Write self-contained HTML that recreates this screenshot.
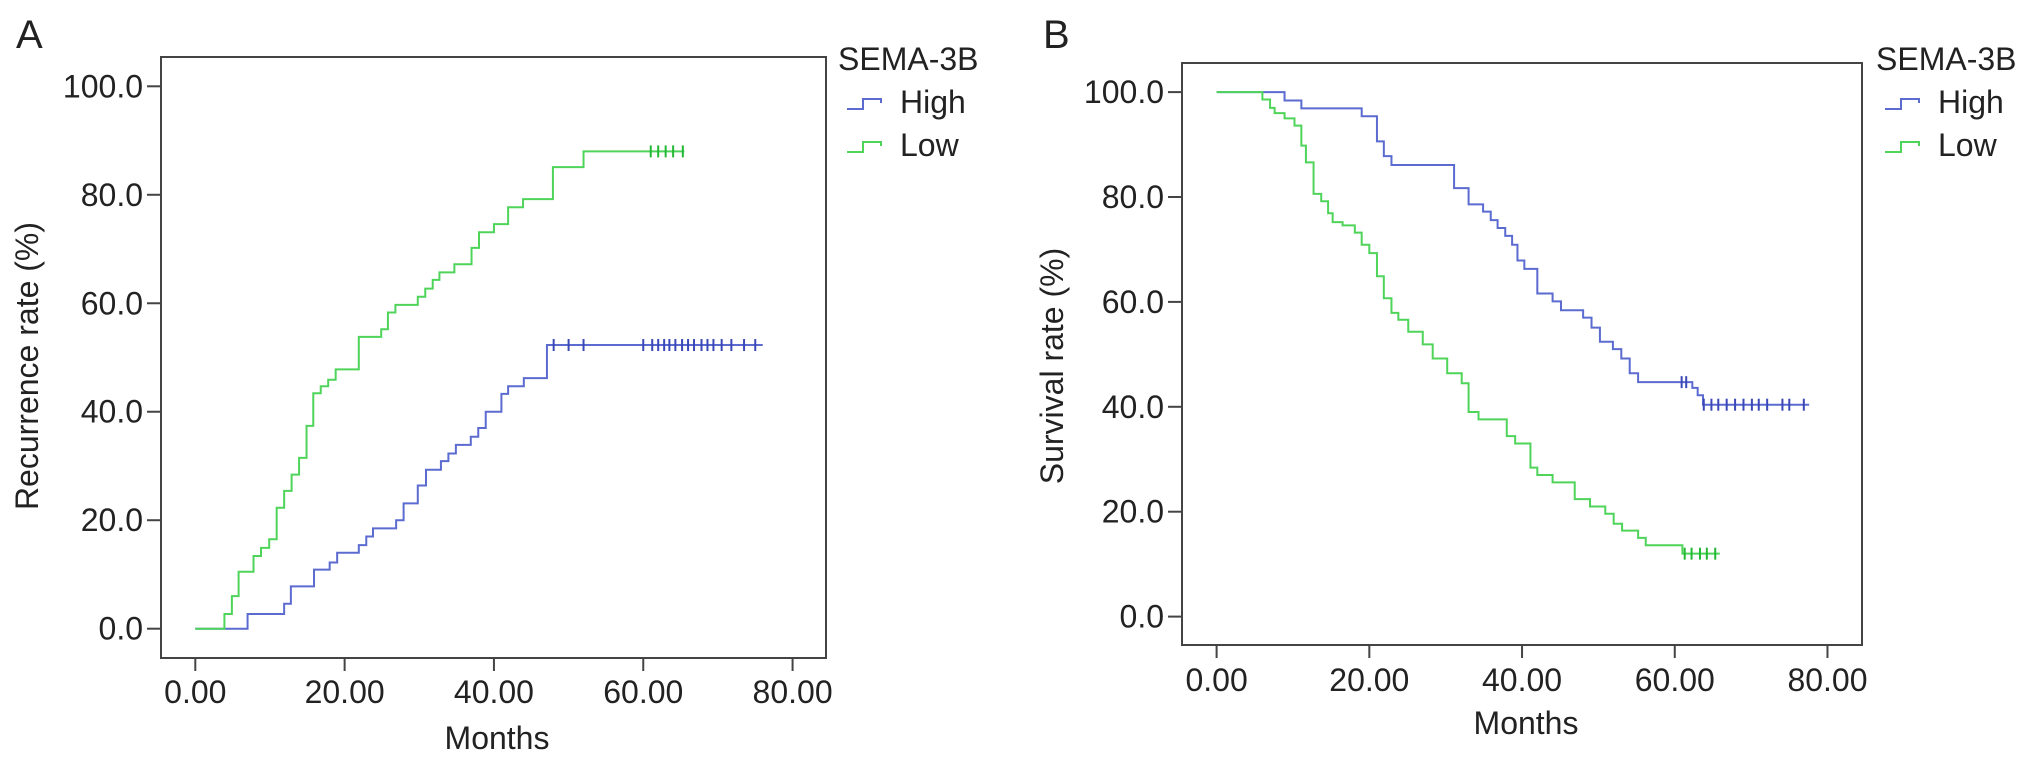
<!DOCTYPE html>
<html><head><meta charset="utf-8">
<style>
html,body{margin:0;padding:0;background:#fff;}
svg{display:block;}
text{font-family:"Liberation Sans",Arial,sans-serif;fill:#222;}
</style></head>
<body>
<svg id="chart" width="2032" height="779" viewBox="0 0 2032 779" xmlns="http://www.w3.org/2000/svg"></svg>
<script>
// ---- Shared ticks ----
const xTickValues = [0, 20, 40, 60, 80];
const xTickLabels = ["0.00", "20.00", "40.00", "60.00", "80.00"];
const yTickValues = [0, 20, 40, 60, 80, 100];
const yTickLabels = ["0.0", "20.0", "40.0", "60.0", "80.0", "100.0"];
const seriesNames = ["High", "Low"];

// ---- Panel A: recurrence (cumulative) ----
const aLowTimes = [0, 3.9, 4.9, 5.8, 7.8, 8.8, 9.9, 10.9, 11.9, 12.9, 13.9, 14.9, 15.8, 16.8, 17.8, 18.8, 21.9, 24.9, 25.8, 26.8, 29.8, 30.8, 31.8, 32.7, 34.7, 37.0, 38.0, 40.0, 41.9, 43.9, 47.9, 52.0];
const aLowValues = [0, 2.7, 6.0, 10.5, 13.4, 14.9, 16.5, 22.3, 25.4, 28.4, 31.5, 37.4, 43.4, 44.7, 45.9, 47.8, 53.8, 55.2, 58.3, 59.7, 61.2, 62.7, 64.3, 65.7, 67.2, 70.2, 73.1, 74.6, 77.7, 79.2, 85.1, 88.0];
const aLowEnd = 65.5;
const aLowCensor = [61, 62, 63, 64, 65.3];
const aHighTimes = [0, 7.0, 11.9, 12.8, 15.9, 18.0, 19.0, 21.9, 22.9, 23.8, 26.9, 27.9, 29.8, 30.9, 32.9, 33.9, 34.9, 36.9, 37.9, 38.9, 41.0, 41.9, 44.0, 47.1];
const aHighValues = [0, 2.7, 4.6, 7.8, 10.9, 12.2, 14.0, 15.4, 17.0, 18.5, 20.0, 23.1, 26.4, 29.3, 30.9, 32.3, 33.9, 35.4, 37.0, 40.0, 43.3, 44.7, 46.2, 52.3];
const aHighEnd = 76;
const aHighCensor = [48, 50, 52, 60, 61.2, 62, 62.8, 63.5, 64.3, 65.2, 66, 66.8, 67.8, 68.6, 69.4, 70.5, 71.8, 73.5, 75];

// ---- Panel B: survival ----
const bHighTimes = [0, 8.9, 11.1, 19.0, 21.0, 21.9, 22.9, 31.1, 33.0, 34.9, 35.9, 36.8, 37.8, 38.7, 39.4, 40.3, 42.0, 44.0, 45.1, 48.0, 49.1, 50.2, 51.9, 53.0, 54.1, 55.2, 62.3, 63.0, 63.7];
const bHighValues = [100, 98.4, 96.9, 95.4, 90.6, 87.8, 86.1, 81.7, 78.6, 77.2, 75.6, 74.1, 72.6, 70.9, 67.9, 66.3, 61.6, 60.1, 58.4, 57.0, 55.1, 52.4, 51.0, 49.2, 46.4, 44.7, 43.6, 42.2, 40.4];
const bHighEnd = 77.6;
const bHighCensor = [60.9, 61.5, 63.8, 64.8, 65.7, 66.8, 67.9, 69.0, 70.1, 71.0, 72.1, 74.1, 75.0, 76.9];
const bLowTimes = [0, 6.0, 7.0, 7.6, 8.9, 10.2, 11.1, 11.7, 12.7, 13.7, 14.6, 15.2, 16.5, 18.1, 19.0, 20.0, 21.0, 21.9, 22.9, 23.8, 25.1, 27.0, 28.3, 30.2, 32.1, 33.0, 34.3, 38.0, 39.1, 41.1, 42.0, 44.0, 46.9, 48.9, 50.9, 52.0, 53.1, 55.2, 56.2, 61.0];
const bLowValues = [100, 98.6, 97.0, 96.0, 95.0, 93.6, 89.8, 86.6, 80.6, 79.2, 76.9, 75.2, 74.6, 73.2, 70.9, 69.3, 64.9, 60.7, 57.9, 56.6, 54.3, 51.9, 49.2, 46.4, 44.5, 39.0, 37.6, 34.4, 33.0, 28.4, 27.0, 25.6, 22.4, 21.0, 19.6, 17.7, 16.4, 15.0, 13.6, 12.0];
const bLowEnd = 65.9;
const bLowCensor = [61.3, 62.2, 63.3, 64.2, 65.3];

const NS = "http://www.w3.org/2000/svg";
const svg = document.getElementById("chart");
const COLORS = {High: "#5b6bd0", Low: "#4fd45a"};
const CCOLORS = {High: "#3a48b8", Low: "#22b834"};

function mk(tag, attrs, parent) {
  const e = document.createElementNS(NS, tag);
  for (const k in attrs) e.setAttribute(k, attrs[k]);
  (parent || svg).appendChild(e);
  return e;
}

function panel(cfg) {
  const g = mk("g", {});
  
  
  const xs = m => cfg.x0 + (m - 0) * cfg.xk;
  const ys = v => cfg.y0 - v * cfg.yk;
  // box
  const box = mk("rect", {x: cfg.L, y: cfg.T, width: cfg.R - cfg.L, height: cfg.B - cfg.T, fill: "none", stroke: "#444", "stroke-width": 2}, g);
  
  
  // x ticks
  xTickValues.forEach((v, i) => {
    const X = xs(v);
    const t = mk("line", {x1: X, x2: X, y1: cfg.B, y2: cfg.B + 13, stroke: "#444", "stroke-width": 2}, g);
    
    
    const l = mk("text", {x: X, y: cfg.xLabY, "font-size": 32, "text-anchor": "middle"}, g);
    l.textContent = xTickLabels[i];
    
    
  });
  yTickValues.forEach((v, i) => {
    const Y = ys(v);
    const t = mk("line", {x1: cfg.L - 14, x2: cfg.L, y1: Y, y2: Y, stroke: "#444", "stroke-width": 2}, g);
    
    
    const l = mk("text", {x: cfg.L - 18, y: Y + 11, "font-size": 32, "text-anchor": "end"}, g);
    l.textContent = yTickLabels[i];
    
    
  });
  // titles
  const xt = mk("text", {x: cfg.xTitleX, y: cfg.xTitleY, "font-size": 32, "text-anchor": "middle"}, g);
  xt.textContent = "Months";
  
  
  const yt = mk("text", {x: 0, y: 0, "font-size": 32, "text-anchor": "middle", transform: `translate(${cfg.yTitleX + 11},366) rotate(-90)`}, g);
  yt.textContent = cfg.yTitle;
  
  
  const pl = mk("text", {x: cfg.letterX, y: 48, "font-size": 40}, g);
  pl.textContent = cfg.letter;
  
  
  // series
  cfg.series.forEach(s => {
    let d = `M${xs(s.t[0])},${ys(s.v[0])}`;
    for (let i = 1; i < s.t.length; i++) {
      d += ` H${xs(s.t[i])} V${ys(s.v[i])}`;
    }
    d += ` H${xs(s.end)}`;
    const p = mk("path", {d: d, fill: "none", stroke: COLORS[s.name], "stroke-width": 2}, g);
    
    
    const last = s.v[s.v.length - 1];
    s.c.forEach(cm => {
      // find value at censor time
      let val = s.v[0];
      for (let i = 0; i < s.t.length; i++) if (s.t[i] <= cm) val = s.v[i];
      const c = mk("line", {x1: xs(cm), x2: xs(cm), y1: ys(val) - 6, y2: ys(val) + 6, stroke: CCOLORS[s.name], "stroke-width": 2}, g);
      
      
    });
  });
  // legend
  const lg = mk("g", {}, g);
  
  
  const lt = mk("text", {x: cfg.legX, y: 70, "font-size": 32}, lg);
  lt.textContent = "SEMA-3B";
  
  
  seriesNames.forEach((n, i) => {
    const by = 109 + i * 43;
    const ix = cfg.legX + 9;
    const ic = mk("path", {d: `M${ix},${by} H${ix + 16} V${by - 10} H${ix + 34} V${by - 6}`, fill: "none", stroke: COLORS[n], "stroke-width": 2}, lg);
    
    
    const tx = mk("text", {x: cfg.legX + 62, y: by + 4, "font-size": 32}, lg);
    tx.textContent = n;
    
    
  });
}

panel({
  id: "panel-a", letter: "A", letterX: 16, yTitle: "Recurrence rate (%)",
  L: 161, R: 826, T: 57, B: 658,
  x0: 195.3, xk: 7.466, y0: 628.7, yk: 5.424,
  xLabY: 703, xTitleX: 497, xTitleY: 749, yTitleX: 27, legX: 838,
  series: [
    {name: "High", t: aHighTimes, v: aHighValues, end: aHighEnd, c: aHighCensor},
    {name: "Low", t: aLowTimes, v: aLowValues, end: aLowEnd, c: aLowCensor}
  ]
});
panel({
  id: "panel-b", letter: "B", letterX: 1043, yTitle: "Survival rate (%)",
  L: 1182, R: 1862, T: 63, B: 645,
  x0: 1216.6, xk: 7.636, y0: 616.6, yk: 5.245,
  xLabY: 691, xTitleX: 1526, xTitleY: 734, yTitleX: 1052, legX: 1876,
  series: [
    {name: "High", t: bHighTimes, v: bHighValues, end: bHighEnd, c: bHighCensor},
    {name: "Low", t: bLowTimes, v: bLowValues, end: bLowEnd, c: bLowCensor}
  ]
});
</script>
</body></html>
